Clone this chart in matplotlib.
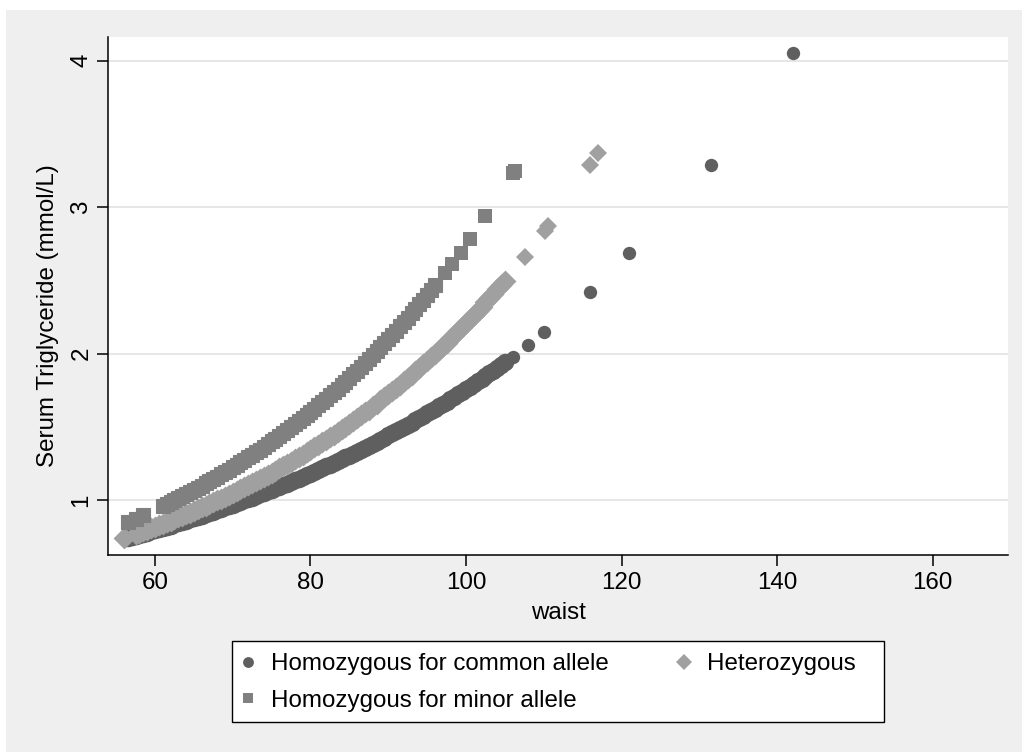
import matplotlib
matplotlib.use("Agg")
import matplotlib.pyplot as plt
from matplotlib.lines import Line2D
from matplotlib.patches import Rectangle

plt.rcParams['font.family'] = ['Liberation Sans', 'DejaVu Sans']

# ---------------- data ----------------
labels = ["Homozygous for common allele", "Heterozygous", "Homozygous for minor allele"]

# dense part of each group (many subjects), followed by the few isolated high-waist subjects
common_waist = [56.5, 57, 57.5, 58, 58.5, 59, 59.5, 60, 60.5, 61, 61.5, 62, 62.5, 63, 63.5,
                64, 64.5, 65, 65.5, 66, 66.5, 67, 67.5, 68, 68.5, 69, 69.5, 70, 70.5, 71,
                71.5, 72, 72.5, 73, 73.5, 74, 74.5, 75, 75.5, 76, 76.5, 77, 77.5, 78, 78.5,
                79, 79.5, 80, 80.5, 81, 81.5, 82, 82.5, 83, 83.5, 84, 84.5, 85, 85.5, 86,
                86.5, 87, 87.5, 88, 88.5, 89, 89.5, 90, 90.5, 91, 91.5, 92, 92.5, 93, 93.5,
                94, 94.5, 95, 95.5, 96, 96.5, 97, 97.5, 98, 98.5, 99, 99.5, 100, 100.5, 101,
                101.5, 102, 102.5, 103, 103.5, 104, 104.5, 105]
common_tg = [0.740, 0.747, 0.755, 0.762, 0.770, 0.778, 0.786, 0.793, 0.801, 0.809, 0.817, 0.826,
             0.834, 0.842, 0.851, 0.859, 0.868, 0.876, 0.885, 0.894, 0.903, 0.912, 0.921, 0.930,
             0.939, 0.949, 0.958, 0.968, 0.978, 0.987, 0.997, 1.007, 1.017, 1.027, 1.038, 1.048,
             1.059, 1.069, 1.080, 1.091, 1.101, 1.112, 1.124, 1.135, 1.146, 1.158, 1.169, 1.181,
             1.193, 1.205, 1.217, 1.229, 1.241, 1.253, 1.266, 1.279, 1.291, 1.304, 1.317, 1.330,
             1.344, 1.357, 1.371, 1.384, 1.398, 1.412, 1.426, 1.441, 1.455, 1.470, 1.484, 1.499,
             1.514, 1.529, 1.544, 1.560, 1.575, 1.591, 1.607, 1.623, 1.639, 1.656, 1.672, 1.689,
             1.706, 1.723, 1.740, 1.758, 1.775, 1.793, 1.811, 1.829, 1.847, 1.866, 1.884, 1.903,
             1.922, 1.941]
common_waist_high = [106, 108, 110, 116, 121, 131.5, 142]
common_tg_high = [1.98, 2.06, 2.15, 2.42, 2.685, 3.29, 4.05]

hetero_waist = [56, 57.5, 58, 58.5, 59, 59.5, 60, 60.5, 61, 61.5, 62, 62.5, 63, 63.5, 64, 64.5,
                65, 65.5, 66, 66.5, 67, 67.5, 68, 68.5, 69, 69.5, 70, 70.5, 71, 71.5, 72, 72.5,
                73, 73.5, 74, 74.5, 75, 75.5, 76, 76.5, 77, 77.5, 78, 78.5, 79, 79.5, 80, 80.5,
                81, 81.5, 82, 82.5, 83, 83.5, 84, 84.5, 85, 85.5, 86, 86.5, 87, 87.5, 88, 88.5,
                89, 89.5, 90, 90.5, 91, 91.5, 92, 92.5, 93, 93.5, 94, 94.5, 95, 95.5, 96, 96.5,
                97, 97.5, 98, 98.5, 99, 99.5, 100, 100.5, 101, 101.5, 102, 102.5, 103, 103.5,
                104, 104.5, 105]
hetero_tg = [0.740, 0.768, 0.778, 0.787, 0.797, 0.807, 0.817, 0.828, 0.838, 0.848, 0.859, 0.870,
             0.881, 0.892, 0.903, 0.914, 0.925, 0.937, 0.949, 0.961, 0.973, 0.985, 0.997, 1.010,
             1.022, 1.035, 1.048, 1.061, 1.074, 1.088, 1.101, 1.115, 1.129, 1.143, 1.157, 1.172,
             1.186, 1.201, 1.216, 1.231, 1.247, 1.262, 1.278, 1.294, 1.310, 1.327, 1.343, 1.360,
             1.377, 1.394, 1.412, 1.429, 1.447, 1.465, 1.484, 1.502, 1.521, 1.540, 1.559, 1.579,
             1.598, 1.618, 1.639, 1.659, 1.680, 1.701, 1.722, 1.743, 1.765, 1.787, 1.810, 1.832,
             1.855, 1.878, 1.902, 1.926, 1.950, 1.974, 1.999, 2.024, 2.049, 2.075, 2.100, 2.127,
             2.153, 2.180, 2.207, 2.235, 2.263, 2.291, 2.320, 2.349, 2.378, 2.408, 2.438, 2.469,
             2.499]
hetero_waist_high = [107.6, 110.2, 110.5, 116, 117]
hetero_tg_high = [2.66, 2.84, 2.87, 3.285, 3.37]

minor_waist = [56.5, 57.5, 58.5, 61, 61.5, 62, 62.5, 63, 63.5, 64, 64.5, 65, 65.5, 66, 66.5, 67,
               67.5, 68, 68.5, 69, 69.5, 70, 70.5, 71, 71.5, 72, 72.5, 73, 73.5, 74, 74.5, 75,
               75.5, 76, 76.5, 77, 77.5, 78, 78.5, 79, 79.5, 80, 80.5, 81, 81.5, 82, 82.5, 83,
               83.5, 84, 84.5, 85, 85.5, 86, 86.5, 87, 87.5, 88, 88.5, 89, 89.5, 90, 90.5, 91,
               91.5, 92, 92.5, 93, 93.5, 94, 94.5, 95, 95.5, 96]
minor_tg = [0.850, 0.873, 0.897, 0.960, 0.973, 0.986, 0.999, 1.013, 1.027, 1.041, 1.055, 1.069,
            1.084, 1.098, 1.113, 1.128, 1.144, 1.159, 1.175, 1.191, 1.207, 1.223, 1.240, 1.257,
            1.274, 1.291, 1.309, 1.327, 1.345, 1.363, 1.381, 1.400, 1.419, 1.438, 1.458, 1.478,
            1.498, 1.518, 1.539, 1.560, 1.581, 1.602, 1.624, 1.646, 1.668, 1.691, 1.714, 1.737,
            1.761, 1.785, 1.809, 1.834, 1.859, 1.884, 1.909, 1.935, 1.962, 1.988, 2.015, 2.043,
            2.070, 2.098, 2.127, 2.156, 2.185, 2.215, 2.245, 2.275, 2.306, 2.337, 2.369, 2.401,
            2.434, 2.467]
minor_waist_high = [97.3, 98.2, 99.3, 100.5, 102.4, 106.1, 106.3]
minor_tg_high = [2.55, 2.61, 2.69, 2.78, 2.94, 3.23, 3.25]

x_ticks = [60, 80, 100, 120, 140, 160]
y_ticks = [1, 2, 3, 4]

# ---------------- figure ----------------
W, H = 1022, 752
FS = 17.4
fig = plt.figure(figsize=(W / 100, H / 100), dpi=100, facecolor='white')
fig.patches.append(Rectangle((6 / W, 0), 1 - 6 / W, 1 - 10 / H, transform=fig.transFigure,
                             facecolor='#efefef', edgecolor='none', zorder=-1))

ax = fig.add_axes([108.3 / W, 1 - 554.5 / H, (1008 - 108.3) / W, (554.5 - 36.7) / H])
ax.set_facecolor('white')

c_dark, c_mid, c_light = '#5f5f5f', '#808080', '#a0a0a0'

# dense bands (overlapping subjects make the band slightly thicker than one marker)
ax.plot(common_waist, common_tg, linestyle='none', marker='o', markersize=10.0,
        markerfacecolor=c_dark, markeredgecolor=c_dark, markeredgewidth=2.6, zorder=3)
ax.plot(hetero_waist, hetero_tg, linestyle='none', marker='D', markersize=9.6,
        markerfacecolor=c_light, markeredgecolor=c_light, markeredgewidth=2.0, zorder=4)
ax.plot(minor_waist, minor_tg, linestyle='none', marker='s', markersize=10.2,
        markerfacecolor=c_mid, markeredgecolor=c_mid, markeredgewidth=0.8, zorder=5)
# isolated subjects
ax.plot(common_waist_high, common_tg_high, linestyle='none', marker='o', markersize=9.6,
        markerfacecolor=c_dark, markeredgewidth=0, zorder=3)
ax.plot(hetero_waist_high, hetero_tg_high, linestyle='none', marker='D', markersize=9.6,
        markerfacecolor=c_light, markeredgewidth=0, zorder=4)
ax.plot(minor_waist_high, minor_tg_high, linestyle='none', marker='s', markersize=10.2,
        markerfacecolor=c_mid, markeredgewidth=0, zorder=5)

ax.set_xlim(54.0, 169.7)
ax.set_ylim(0.628, 4.164)
ax.set_xticks(x_ticks)
ax.set_yticks(y_ticks)
ax.grid(axis='y', color='#e4e4e4', linewidth=1.3, zorder=1)
ax.set_axisbelow(True)

for s in ['top', 'right']:
    ax.spines[s].set_visible(False)
for s in ['left', 'bottom']:
    ax.spines[s].set_linewidth(1.1)
    ax.spines[s].set_color('black')

ax.tick_params(axis='both', direction='out', length=7.9, width=1.1, colors='black',
               labelsize=FS)
ax.tick_params(axis='x', pad=4.5)
ax.tick_params(axis='y', pad=3.5, labelrotation=90)
for lab in ax.get_yticklabels():
    lab.set_verticalalignment('center')

ax.set_xlabel('waist', fontsize=FS, labelpad=6)
ax.set_ylabel('Serum Triglyceride (mmol/L)', fontsize=FS)
ax.yaxis.set_label_coords((59 - 108.3) / (1008 - 108.3), 0.462)

# ---------------- legend ----------------
fig.patches.append(Rectangle((232.3 / W, 1 - 722 / H), (884 - 232.3) / W, (722 - 641) / H,
                             transform=fig.transFigure, facecolor='white', edgecolor='black',
                             linewidth=1.0, zorder=1))
handles = [
    Line2D([], [], linestyle='none', marker='o', markersize=7.8, markerfacecolor=c_dark,
           markeredgewidth=0),
    Line2D([], [], linestyle='none', marker='s', markersize=7.6, markerfacecolor=c_mid,
           markeredgewidth=0),
    Line2D([], [], linestyle='none', marker='D', markersize=8.4, markerfacecolor=c_light,
           markeredgewidth=0),
]
leg_labels = [labels[0], labels[2], labels[1]]
fig.legend(handles, leg_labels, ncol=2, frameon=False, fontsize=FS, loc='center left',
           bbox_to_anchor=(235.6 / W, 1 - 682.5 / H), bbox_transform=fig.transFigure,
           borderpad=0, borderaxespad=0, handlelength=1.0, handletextpad=0.45,
           columnspacing=2.62, labelspacing=0.58, numpoints=1)

fig.savefig('out.png', dpi=100, facecolor=fig.get_facecolor())
